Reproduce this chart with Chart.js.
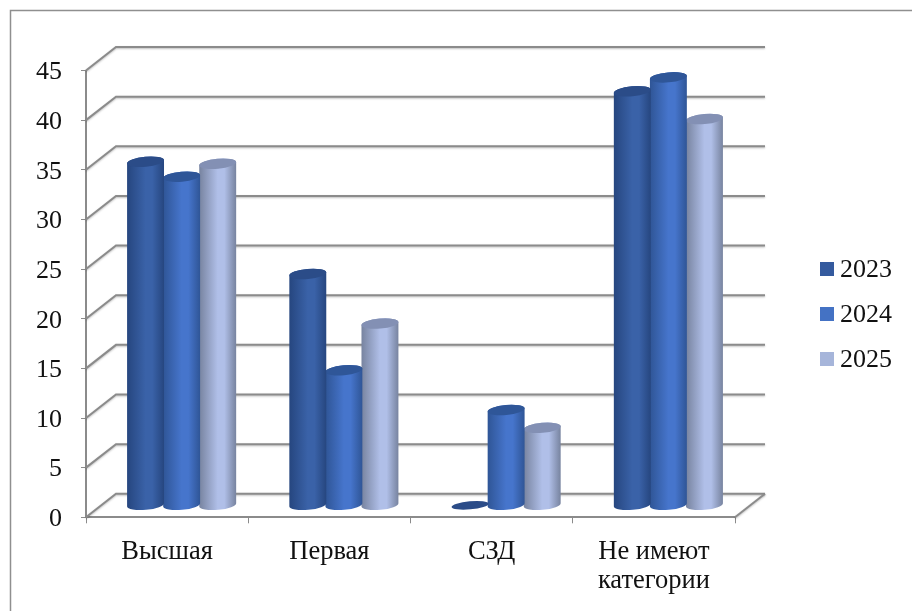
<!DOCTYPE html>
<html>
<head>
<meta charset="utf-8">
<style>
  html, body { margin: 0; padding: 0; background: #fff; overflow: hidden; }
</style>
<script src="https://cdn.jsdelivr.net/npm/chart.js@4/dist/chart.umd.min.js"></script>
</head>
<body>
<canvas id="categoryChart" width="912" height="611"></canvas>
<script>
// values
const categories = ['Высшая', 'Первая', 'СЗД', ['Не имеют', 'категории']];
const years = ['2023', '2024', '2025'];
const values2023 = [34.6, 23.3, 0, 41.7];
const values2024 = [33.1, 13.6, 9.6, 43.1];
const values2025 = [34.4, 18.3, 7.8, 38.9];

// edge, centre, edge, top of each cylinder
const shades = [
  { edge: '#26467f', mid: '#3a62a8', top: '#2b4c88', legend: '#345a9e' },
  { edge: '#2f5596', mid: '#4675cc', top: '#2f5698', legend: '#4472c4' },
  { edge: '#77839f', mid: '#b0bfe8', top: '#8390b4', legend: '#a6b5da' }
];

const GRID = '#8b8b8b';
const DEPTH_X = 30;   // back wall shift
const DEPTH_Y = 23.5;
const BAR_DX = 14.5;  // bars stand in the middle of the floor
const BAR_DY = -12;
const TILT = -0.09;
const TOP_RY = 5;

function drawCylinder(ctx, x, top, base, width, shade) {
  const rx = width / 2;
  const yTop = top + BAR_DY;
  const yBase = base + BAR_DY;
  const cx = x + BAR_DX;
  if (yBase - yTop > 0.5) {
    const grad = ctx.createLinearGradient(cx - rx, 0, cx + rx, 0);
    grad.addColorStop(0, shade.edge);
    grad.addColorStop(0.5, shade.mid);
    grad.addColorStop(0.68, shade.mid);
    grad.addColorStop(1, shade.edge);
    ctx.beginPath();
    ctx.ellipse(cx, yBase, rx, TOP_RY, TILT, 0, Math.PI, false);
    ctx.ellipse(cx, yTop, rx, TOP_RY, TILT, Math.PI, Math.PI * 2, false);
    ctx.closePath();
    ctx.fillStyle = grad;
    ctx.fill();
  }
  ctx.beginPath();
  ctx.ellipse(cx, yTop, rx, yBase - yTop > 0.5 ? TOP_RY : 4, TILT, 0, Math.PI * 2);
  ctx.fillStyle = shade.top;
  ctx.fill();
}

const wallPlugin = {
  id: 'wall',
  beforeDraw(chart) {
    const ctx = chart.ctx;
    ctx.save();
    ctx.fillStyle = '#fff';
    ctx.fillRect(0, 0, chart.width, chart.height);
    // frame, open at right and bottom
    ctx.strokeStyle = '#8f8f8f';
    ctx.lineWidth = 1.5;
    ctx.beginPath();
    ctx.moveTo(10.5, 611);
    ctx.lineTo(10.5, 10.5);
    ctx.lineTo(912, 10.5);
    ctx.stroke();
    ctx.restore();
  },
  beforeDatasetsDraw(chart) {
    const ctx = chart.ctx;
    const { left, right } = chart.chartArea;
    const yScale = chart.scales.y;
    ctx.save();
    ctx.strokeStyle = GRID;
    ctx.lineWidth = 2;
    ctx.shadowColor = 'rgba(0,0,0,0.25)';
    ctx.shadowBlur = 2;
    ctx.shadowOffsetY = 1;
    yScale.ticks.forEach(t => {
      const y = yScale.getPixelForValue(t.value);
      ctx.beginPath();
      ctx.moveTo(left, y);
      ctx.lineTo(left + DEPTH_X, y - DEPTH_Y);
      ctx.lineTo(right + DEPTH_X, y - DEPTH_Y);
      ctx.stroke();
    });
    const y0 = yScale.getPixelForValue(0);
    ctx.beginPath();
    ctx.moveTo(right, y0);
    ctx.lineTo(right + DEPTH_X, y0 - DEPTH_Y);
    ctx.stroke();
    ctx.restore();
  },
  // cylinders instead of flat bars, still placed by the chart's scales
  beforeDatasetDraw(chart, args) {
    const ctx = chart.ctx;
    const shade = shades[args.index];
    ctx.save();
    args.meta.data.forEach(bar => {
      drawCylinder(ctx, bar.x, bar.y, bar.base, bar.width + 1, shade);
    });
    ctx.restore();
    return false;
  },
  afterDraw(chart) {
    const ctx = chart.ctx;
    ctx.save();
    ctx.font = '26px "Liberation Serif"';
    ctx.textBaseline = 'middle';
    chart.data.datasets.forEach((ds, i) => {
      const y = 262 + i * 45;
      ctx.fillStyle = shades[i].legend;
      ctx.fillRect(820, y, 14, 14);
      ctx.fillStyle = '#111';
      ctx.fillText(ds.label, 840, y + 8);
    });
    ctx.restore();
  }
};

new Chart(document.getElementById('categoryChart').getContext('2d'), {
  type: 'bar',
  data: {
    labels: categories,
    datasets: [
      { label: years[0], data: values2023, backgroundColor: shades[0].legend },
      { label: years[1], data: values2024, backgroundColor: shades[1].legend },
      { label: years[2], data: values2025, backgroundColor: shades[2].legend }
    ]
  },
  options: {
    responsive: false,
    animation: false,
    categoryPercentage: 0.667,
    barPercentage: 1,
    layout: { padding: { left: 0, top: 70.5, right: 177, bottom: 0 } },
    plugins: { legend: { display: false }, tooltip: { enabled: false } },
    scales: {
      x: {
        afterFit: s => { s.height = 93.7; },
        grid: { drawOnChartArea: false, drawTicks: true, tickLength: 6, color: GRID, lineWidth: 1 },
        border: { color: GRID, width: 2 },
        ticks: {
          color: '#111',
          padding: 14,
          maxRotation: 0,
          font: { family: '"Liberation Serif"', size: 26.5, lineHeight: 1.1 }
        }
      },
      y: {
        min: 0,
        max: 45,
        afterFit: s => { s.width = 86; },
        grid: { drawOnChartArea: false, drawTicks: true, tickLength: 5, color: GRID, lineWidth: 1 },
        border: { color: GRID, width: 2 },
        ticks: {
          stepSize: 5,
          color: '#111',
          padding: 19,
          labelOffset: 2,
          font: { family: '"Liberation Serif"', size: 26 }
        }
      }
    }
  },
  plugins: [wallPlugin]
});
</script>
</body>
</html>
